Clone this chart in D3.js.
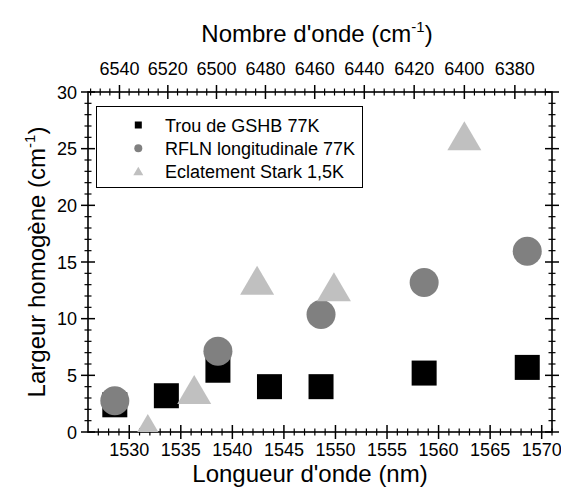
<!DOCTYPE html>
<html><head><meta charset="utf-8">
<script src="https://cdn.jsdelivr.net/npm/d3@7"></script>
<style>body{margin:0;background:#fff}svg{display:block;font-family:"Liberation Sans",Arial,sans-serif}</style>
</head><body><div id="chart"></div>
<script>
// Data (wavelength in nm, homogeneous width in cm-1)
const seriesNames = ["Trou de GSHB 77K", "RFLN longitudinale 77K", "Eclatement Stark 1,5K"];
const gshbX = [1528.6, 1533.6, 1538.6, 1543.6, 1548.6, 1558.6, 1568.6];
const gshbY = [2.4, 3.2, 5.45, 4.0, 4.0, 5.2, 5.7];
const rflnX = [1528.6, 1538.6, 1548.6, 1558.6, 1568.6];
const rflnY = [2.75, 7.13, 10.37, 13.2, 15.94];
const starkX = [1531.8, 1536.3, 1542.4, 1549.85, 1562.5];
const starkY = [0.31, 3.75, 13.4, 12.82, 26.14];
const bottomTicks = [1530, 1535, 1540, 1545, 1550, 1555, 1560, 1565, 1570];
const topTicks = [6540, 6520, 6500, 6480, 6460, 6440, 6420, 6400, 6380];
const yTicks = [0, 5, 10, 15, 20, 25, 30];

const W = 561, H = 492;
const L = 88, R = 552, T = 92, B = 432;
const svg = d3.select("#chart").append("svg").attr("width", W).attr("height", H);
const x = d3.scaleLinear().domain([1526, 1571]).range([L, R]);
const y = d3.scaleLinear().domain([0, 30]).range([B, T]);
const xTop = v => x(1e7 / v);

const FS = 18;
// clip
svg.append("clipPath").attr("id", "clip").append("rect")
  .attr("x", L).attr("y", T).attr("width", R - L).attr("height", B - T);

const g = svg.append("g");
const tick = (x1, y1, x2, y2, w) => g.append("line").attr("x1", x1).attr("y1", y1).attr("x2", x2).attr("y2", y2)
  .attr("stroke", "#000").attr("stroke-width", w);

// frame
g.append("rect").attr("x", L).attr("y", T).attr("width", R - L).attr("height", B - T)
  .attr("fill", "none").attr("stroke", "#000").attr("stroke-width", 1.6);

// bottom axis ticks
d3.range(1527, 1572, 1).forEach(v => {
  const major = bottomTicks.includes(v);
  const px = x(v), h = major ? 7 : 3.5;
  tick(px, B - h, px, B + h, major ? 1.5 : 1.2);
});
bottomTicks.forEach(v => g.append("text").attr("x", x(v)).attr("y", B + 24)
  .attr("text-anchor", "middle").attr("font-size", FS).text(v));

// top axis (wavenumber, reciprocal)
d3.range(6552, 6362, -4).forEach(v => {
  const px = xTop(v);
  if (px < L - 0.5 || px > R + 0.5) return;
  const major = topTicks.includes(v), h = major ? 7 : 3.5;
  tick(px, T - h, px, T + h, major ? 1.5 : 1.2);
});
topTicks.forEach(v => g.append("text").attr("x", xTop(v)).attr("y", T - 17)
  .attr("text-anchor", "middle").attr("font-size", FS).text(v));

// left & right axes
d3.range(0, 31, 1).forEach(v => {
  const major = yTicks.includes(v), h = major ? 7 : 3.5, py = y(v);
  tick(L - h, py, L + h, py, major ? 1.5 : 1.2);
  tick(R - h, py, R + h, py, major ? 1.5 : 1.2);
});
yTicks.forEach(v => g.append("text").attr("x", L - 11).attr("y", y(v) + 6.5)
  .attr("text-anchor", "end").attr("font-size", FS).text(v));

// titles
const bt = svg.append("text").attr("x", (L + R) / 2 - 10).attr("y", 482).attr("text-anchor", "middle")
  .attr("font-size", 24).text("Longueur d'onde (nm)");
const tt = svg.append("text").attr("x", 317).attr("y", 42).attr("text-anchor", "middle").attr("font-size", 24);
tt.append("tspan").text("Nombre d'onde (cm");
tt.append("tspan").attr("dy", -10).attr("font-size", 15).text("-1");
tt.append("tspan").attr("dy", 10).text(")");
const yt = svg.append("text").attr("transform", "translate(45,262) rotate(-90)").attr("text-anchor", "middle").attr("font-size", 24);
yt.append("tspan").text("Largeur homogène (cm");
yt.append("tspan").attr("dy", -10).attr("font-size", 15).text("-1");
yt.append("tspan").attr("dy", 10).text(")");

// markers
const pg = svg.append("g").attr("clip-path", "url(#clip)");
const tri = (cx, cy, w, h) => `M${cx},${cy - h / 2}L${cx + w / 2},${cy + h / 2}L${cx - w / 2},${cy + h / 2}Z`;
const sq = 25, cr = 14.5, tw = 34, th = 29;
pg.selectAll("rect.gshb").data(d3.zip(gshbX, gshbY)).join("rect").attr("class", "gshb")
  .attr("x", d => x(d[0]) - sq / 2).attr("y", d => y(d[1]) - sq / 2).attr("width", sq).attr("height", sq).attr("fill", "#000");
pg.selectAll("circle.rfln").data(d3.zip(rflnX, rflnY)).join("circle").attr("class", "rfln")
  .attr("cx", d => x(d[0])).attr("cy", d => y(d[1])).attr("r", cr).attr("fill", "#808080");
pg.selectAll("path.stark").data(d3.zip(starkX, starkY)).join("path").attr("class", "stark")
  .attr("d", d => tri(x(d[0]), y(d[1]), tw, th)).attr("fill", "#c0c0c0");

// legend
const lg = svg.append("g");
lg.append("rect").attr("x", 96.5).attr("y", 106.5).attr("width", 266).attr("height", 81)
  .attr("fill", "#fff").attr("stroke", "#000").attr("stroke-width", 1);
const rows = [125, 148.3, 171], sx = 138.3;
lg.append("rect").attr("x", sx - 3.5).attr("y", rows[0] - 3.5).attr("width", 7).attr("height", 7).attr("fill", "#000");
lg.append("circle").attr("cx", sx).attr("cy", rows[1]).attr("r", 4).attr("fill", "#808080");
lg.append("path").attr("d", tri(sx, rows[2], 10, 8.5)).attr("fill", "#c0c0c0");
seriesNames.forEach((n, i) => lg.append("text").attr("x", 165).attr("y", rows[i] + 6.5)
  .attr("font-size", FS).text(n));
</script></body></html>
